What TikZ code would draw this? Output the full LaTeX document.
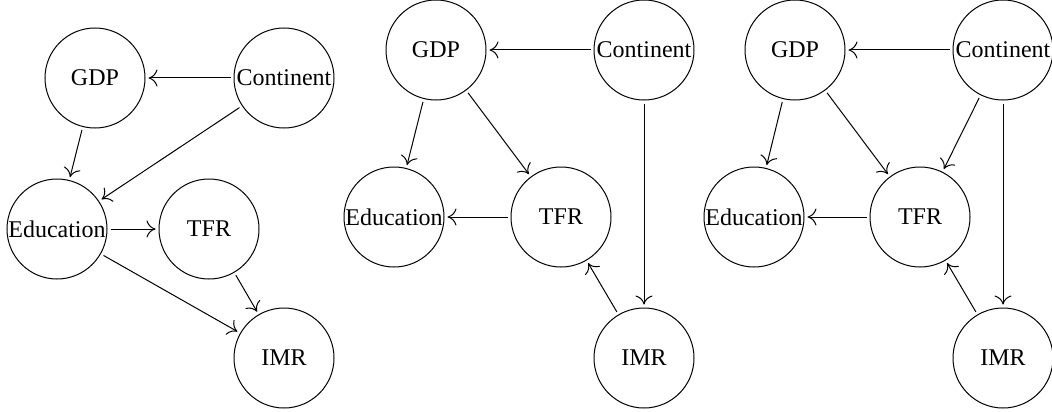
\documentclass[tikz,border=0pt]{standalone}
\usepackage{fontspec}
\setmainfont{Liberation Serif}
\usetikzlibrary{arrows.meta}
\begin{document}
\begin{tikzpicture}[x=1pt,y=-1pt,
  var/.style={draw,circle,minimum size=100pt,inner sep=0pt,line width=1pt,font=\fontsize{24}{28}\selectfont},
  edge/.style={line width=1pt,-{To[length=9pt,width=17pt]},shorten >=3pt,shorten <=3pt}]
\useasboundingbox (0,0) rectangle (1052,412);
% graph 1
\node[var] (a1) at (95,78) {GDP};
\node[var] (b1) at (284,78) {Continent};
\node[var] (c1) at (57,229) {Education};
\node[var] (d1) at (209,229) {TFR};
\node[var] (e1) at (284,358) {IMR};
\draw[edge] (b1) -- (a1);
\draw[edge] (b1) -- (c1);
\draw[edge] (a1) -- (c1);
\draw[edge] (c1) -- (d1);
\draw[edge] (c1) -- (e1);
\draw[edge] (d1) -- (e1);
% graph 2
\node[var] (a2) at (436,50) {GDP};
\node[var] (b2) at (644,50) {Continent};
\node[var] (c2) at (394,217) {Education};
\node[var] (d2) at (561,217) {TFR};
\node[var] (e2) at (644,358) {IMR};
\draw[edge] (b2) -- (a2);
\draw[edge] (a2) -- (c2);
\draw[edge] (a2) -- (d2);
\draw[edge] (d2) -- (c2);
\draw[edge] (b2) -- (e2);
\draw[edge] (e2) -- (d2);
% graph 3
\node[var] (a3) at (795,50) {GDP};
\node[var] (b3) at (1003,50) {Continent};
\node[var] (c3) at (754,217) {Education};
\node[var] (d3) at (920,217) {TFR};
\node[var] (e3) at (1003,358) {IMR};
\draw[edge] (b3) -- (a3);
\draw[edge] (a3) -- (c3);
\draw[edge] (a3) -- (d3);
\draw[edge] (b3) -- (d3);
\draw[edge] (d3) -- (c3);
\draw[edge] (b3) -- (e3);
\draw[edge] (e3) -- (d3);
\end{tikzpicture}
\end{document}
